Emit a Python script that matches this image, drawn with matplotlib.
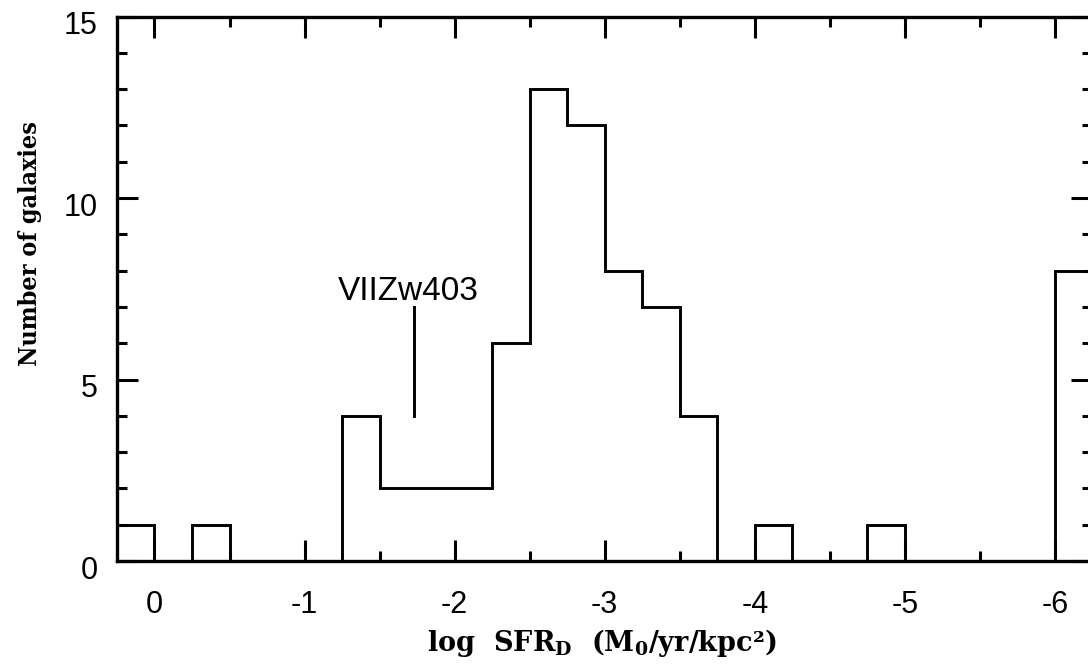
import matplotlib

matplotlib.use("Agg")
import matplotlib.pyplot as plt  # noqa: E402
import matplotlib.transforms as mtransforms  # noqa: E402
import numpy as np  # noqa: E402
from matplotlib.ticker import MultipleLocator  # noqa: E402

# histogram of log SFR_D, bins of 0.25 dex from +0.25 down to -6.25
bin_edges = np.arange(0.25, -6.26, -0.25)
counts = [1, 0, 1, 0, 0, 0, 4, 2, 2, 2, 6, 13, 12, 8, 7, 4,
          0, 1, 0, 0, 1, 0, 0, 0, 0, 8]

mark_x = -1.73
mark_y = [4, 7]
mark_label = "VIIZw403"

x_ticks = [0, -1, -2, -3, -4, -5, -6]
y_ticks = [0, 5, 10, 15]

plt.rcParams.update({
    "font.family": "Liberation Sans",
    "mathtext.fontset": "dejavuserif",
    "axes.linewidth": 2.4,
})

fig = plt.figure(figsize=(10.88, 6.71), dpi=100)
ax = fig.add_axes([0.1075, 0.1639, 0.8966, 0.8115])

ax.stairs(counts, bin_edges, color="black", linewidth=2.1)
ax.plot([mark_x, mark_x], mark_y, color="black", linewidth=2.1)
ax.text(mark_x + 0.04, 7.2, mark_label, ha="center", va="baseline", fontsize=24)

ax.set_xlim(0.25, -6.25)
ax.set_ylim(0, 15)
ax.set_xticks(x_ticks)
ax.set_xticklabels([f"{t:d}" for t in x_ticks])
ax.set_yticks(y_ticks)
ax.xaxis.set_minor_locator(MultipleLocator(0.5))
ax.yaxis.set_minor_locator(MultipleLocator(1))
ax.tick_params(which="both", direction="in", top=True, right=True, width=2.2,
               labelsize=22)
ax.tick_params(which="major", length=15)
ax.tick_params(which="minor", length=7.5)
ax.tick_params(axis="x", which="major", pad=21)
ax.tick_params(axis="y", which="major", pad=14)

# y tick labels sit a little below their ticks in the original
shift = mtransforms.ScaledTranslation(0, -6 / 100, fig.dpi_scale_trans)
for lbl in ax.get_yticklabels():
    lbl.set_transform(lbl.get_transform() + shift)

ax.set_xlabel(r"log  SFR$_\mathbf{D}$  (M$_\mathbf{0}$/yr/kpc²)",
              family="DejaVu Serif", fontweight="bold", fontsize=19.5)
ax.xaxis.set_label_coords(0.497, -0.122)
ax.set_ylabel("Number of galaxies", family="DejaVu Serif", fontweight="bold",
              fontsize=18, fontstretch="condensed")
ax.yaxis.set_label_coords(-0.077, 0.583)

fig.savefig("out.png", dpi=100)
